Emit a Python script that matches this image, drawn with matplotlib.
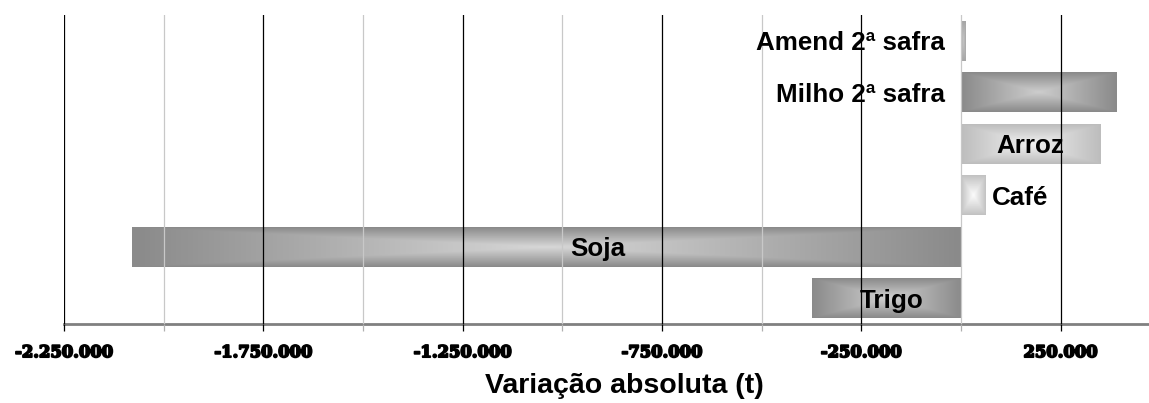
import numpy as np
import matplotlib
matplotlib.use("Agg")
import matplotlib.pyplot as plt
import matplotlib.patheffects as pe
from matplotlib.colors import LinearSegmentedColormap

# ── Data ───────────────────────────────────────────────────────────────────────
culturas = ["Trigo", "Soja", "Café", "Arroz", "Milho 2ª safra", "Amend 2ª safra"]
variacao = [-374000, -2080000, 61000, 350000, 390000, 11000]
ticks_rot = [-2250000, -1750000, -1250000, -750000, -250000, 250000]
ticks_sec = [-2000000, -1500000, -1000000, -500000, 0]

# ── Style ──────────────────────────────────────────────────────────────────────
cor_borda = ["#8a8a8a", "#8a8a8a", "#c2c2c2", "#bdbdbd", "#8a8a8a", "#a6a6a6"]
cor_centro = ["#cfcfcf", "#d6d6d6", "#fbfbfb", "#f0f0f0", "#cccccc", "#c4c4c4"]
# where each label sits: (anchor, x offset in points, ha)
rotulo = [("centro", 4, "center"), ("centro", 37, "center"), ("fim", 5, "left"),
          ("centro", 0, "center"), ("zero", -11.5, "right"), ("zero", -11.5, "right")]

W, H = 1149, 403
fig = plt.figure(figsize=(W / 100, H / 100), dpi=100)
ax = fig.add_axes([64 / W, 1 - 324 / H, (W - 64) / W, 309 / H])

y = np.arange(len(culturas))
bars = ax.barh(y, variacao, height=0.77, color=cor_borda, zorder=1)

# rectangular ("from centre") grey gradient inside every bar
nx, ny = 400, 60
u = np.abs(np.linspace(-1, 1, nx))[None, :]
v = np.abs(np.linspace(-1, 1, ny))[:, None]
dist = np.maximum(u, v)
for b, c0, c1 in zip(bars, cor_centro, cor_borda):
    cmap = LinearSegmentedColormap.from_list("g", [c0, c1])
    x0, w = b.get_x(), b.get_width()
    y0, h = b.get_y(), b.get_height()
    im = ax.imshow(dist, cmap=cmap, extent=[x0, x0 + w, y0, y0 + h],
                   aspect="auto", interpolation="bilinear", zorder=1.5)
    im.set_clip_path(b)

ax.set_xlim(-2250000, 472000)
ax.set_ylim(-0.5, len(culturas) - 0.5)

ax.set_xticks(ticks_rot)
ax.set_xticks(ticks_sec, minor=True)
labs = ax.set_xticklabels([f"{t:,.0f}".replace(",", ".") for t in ticks_rot],
                          fontfamily="DejaVu Serif", fontweight="bold", fontsize=11.8)
for t in labs:
    t.set_path_effects([pe.withStroke(linewidth=1.3, foreground="black")])
ax.set_yticks([])
ax.tick_params(axis="x", which="major", length=5, width=0.9, color="black", pad=9.5)
ax.tick_params(axis="x", which="minor", length=5, width=0.9, color="#b0b0b0")

ax.set_axisbelow(False)
ax.grid(True, axis="x", which="major", color="black", lw=0.9, zorder=2.5)
ax.grid(True, axis="x", which="minor", color="#c8c8c8", lw=0.9, zorder=2.5)

for s in ["top", "right", "left"]:
    ax.spines[s].set_visible(False)
ax.spines["bottom"].set_color("#808080")
ax.spines["bottom"].set_linewidth(2)

for yi, val, b, (ancora, dx, ha) in zip(y, variacao, bars, rotulo):
    if ancora == "centro":
        xr = b.get_x() + b.get_width() / 2
    elif ancora == "fim":
        xr = val
    else:
        xr = 0
    ax.annotate(culturas[yi], (xr, yi), xytext=(dx, 0), textcoords="offset points",
                ha=ha, va="center_baseline", fontsize=18.7, fontweight="bold",
                fontfamily="Liberation Sans", zorder=5)

fig.text(624 / W, 1 - 393 / H, "Variação absoluta (t)", ha="center", va="baseline",
         fontsize=20.5, fontweight="bold", fontfamily="Liberation Sans")

fig.savefig("out.png", dpi=100, facecolor="white")
